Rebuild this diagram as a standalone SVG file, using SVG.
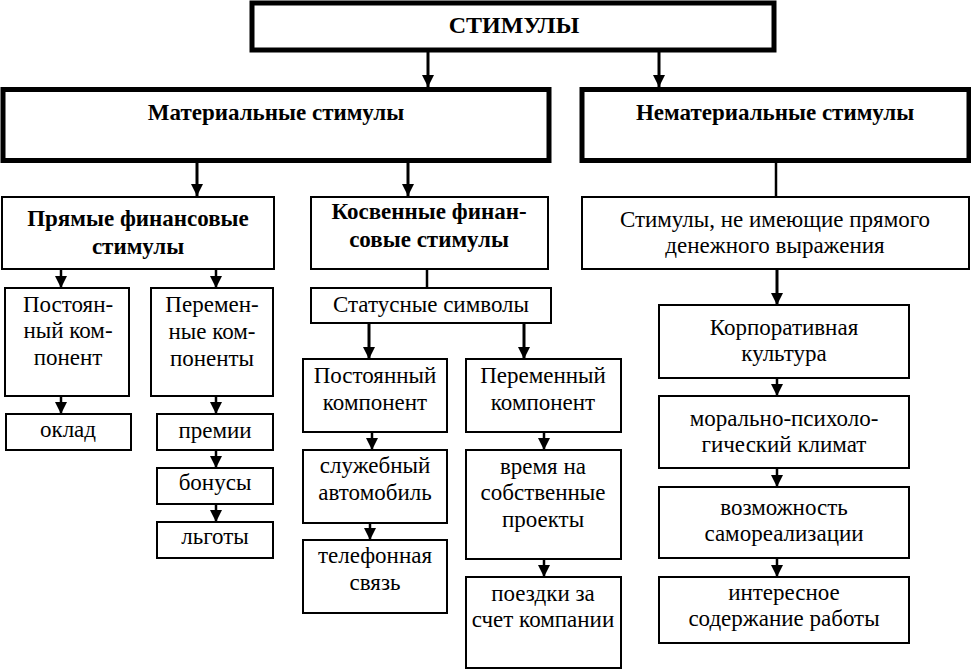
<svg xmlns="http://www.w3.org/2000/svg" width="971" height="669" viewBox="0 0 971 669">
<defs>
<marker id="ah" markerUnits="userSpaceOnUse" markerWidth="12" markerHeight="12" refX="12" refY="6" orient="auto">
<path d="M0,0 L12,6 L0,12 z" fill="#000"/>
</marker>
<style>
.thick{fill:#fff;stroke:#000;stroke-width:5}
.box{fill:#fff;stroke:#000;stroke-width:2}
text{font-family:"Liberation Serif","DejaVu Serif",serif;fill:#000;text-anchor:middle}
.t{font-size:23px}
.b{font-size:23px;font-weight:bold}
.bb{font-size:24px;font-weight:bold}
.c{stroke:#000;stroke-width:2.5;fill:none}
.ca{stroke:#000;stroke-width:2.5;fill:none;marker-end:url(#ah)}
.cat{stroke:#000;stroke-width:3;fill:none;marker-end:url(#ah)}
</style>
</defs>
<rect width="971" height="669" fill="#fff"/>
<g id="connectors">
<line class="cat" x1="428" y1="50" x2="428" y2="87"/>
<line class="cat" x1="659" y1="50" x2="659" y2="87"/>
<line class="cat" x1="197" y1="161" x2="197" y2="196"/>
<line class="cat" x1="408" y1="161" x2="408" y2="196"/>
<line class="c" x1="776" y1="161" x2="776" y2="197"/>
<line class="ca" x1="61" y1="269" x2="61" y2="288"/>
<line class="ca" x1="216" y1="269" x2="216" y2="288"/>
<line class="ca" x1="61" y1="396" x2="61" y2="414"/>
<line class="ca" x1="216" y1="396" x2="216" y2="414"/>
<line class="ca" x1="216" y1="450" x2="216" y2="468"/>
<line class="ca" x1="216" y1="504" x2="216" y2="522"/>
<line class="c" x1="427" y1="269" x2="427" y2="288"/>
<line class="cat" x1="369" y1="323" x2="369" y2="359"/>
<line class="cat" x1="524" y1="323" x2="524" y2="359"/>
<line class="ca" x1="372" y1="432" x2="372" y2="450"/>
<line class="ca" x1="370" y1="523" x2="370" y2="540"/>
<line class="ca" x1="544" y1="432" x2="544" y2="450"/>
<line class="ca" x1="544" y1="559" x2="544" y2="577"/>
<line class="cat" x1="777" y1="269" x2="777" y2="305"/>
<line class="ca" x1="777" y1="378" x2="777" y2="396"/>
<line class="ca" x1="777" y1="468" x2="777" y2="487"/>
<line class="ca" x1="777" y1="558" x2="777" y2="577"/>
</g>
<g id="n-stimuly"><rect class="thick" x="252" y="3" width="522" height="47"/><text class="bb" x="514" y="33">СТИМУЛЫ</text></g>
<g id="n-material"><rect class="thick" x="3" y="89.5" width="546" height="71"/><text class="b" x="276" y="120">Материальные стимулы</text></g>
<g id="n-nematerial"><rect class="thick" x="582" y="89.5" width="387" height="71"/><text class="b" x="775" y="120">Нематериальные стимулы</text></g>
<g id="n-pryamye"><rect class="box" x="2" y="197" width="272" height="72"/><text class="b" x="138" y="226">Прямые финансовые</text><text class="b" x="138" y="254">стимулы</text></g>
<g id="n-kosvennye"><rect class="box" x="311" y="197" width="237" height="72"/><text class="b" x="429" y="219">Косвенные финан-</text><text class="b" x="429" y="247">совые стимулы</text></g>
<g id="n-nedenezh"><rect class="box" x="582" y="197" width="387" height="72"/><text class="t" x="775" y="227">Стимулы, не имеющие прямого</text><text class="t" x="775" y="253">денежного выражения</text></g>
<g id="n-postoyan1"><rect class="box" x="5" y="288" width="124" height="108"/><text class="t" x="68" y="312">Постоян-</text><text class="t" x="68" y="338">ный ком-</text><text class="t" x="68" y="365">понент</text></g>
<g id="n-peremen1"><rect class="box" x="151" y="288" width="122" height="108"/><text class="t" x="212" y="312">Перемен-</text><text class="t" x="212" y="339">ные ком-</text><text class="t" x="212" y="366">поненты</text></g>
<g id="n-oklad"><rect class="box" x="6" y="414" width="125" height="36"/><text class="t" x="68" y="437">оклад</text></g>
<g id="n-premii"><rect class="box" x="157" y="414" width="116" height="36"/><text class="t" x="215" y="438">премии</text></g>
<g id="n-bonusy"><rect class="box" x="157" y="468" width="116" height="36"/><text class="t" x="215" y="490">бонусы</text></g>
<g id="n-lgoty"><rect class="box" x="157" y="522" width="116" height="36"/><text class="t" x="215" y="544">льготы</text></g>
<g id="n-status"><rect class="box" x="311" y="288" width="240" height="35"/><text class="t" x="431" y="312">Статусные символы</text></g>
<g id="n-postoyan2"><rect class="box" x="303" y="359" width="144" height="73"/><text class="t" x="375" y="383">Постоянный</text><text class="t" x="375" y="410">компонент</text></g>
<g id="n-peremen2"><rect class="box" x="466" y="359" width="155" height="73"/><text class="t" x="543" y="383">Переменный</text><text class="t" x="543" y="410">компонент</text></g>
<g id="n-avto"><rect class="box" x="303" y="450" width="144" height="73"/><text class="t" x="375" y="473">служебный</text><text class="t" x="375" y="500">автомобиль</text></g>
<g id="n-telefon"><rect class="box" x="303" y="540" width="144" height="73"/><text class="t" x="375" y="563">телефонная</text><text class="t" x="375" y="590">связь</text></g>
<g id="n-vremya"><rect class="box" x="466" y="450" width="155" height="109"/><text class="t" x="543" y="474">время на</text><text class="t" x="543" y="500">собственные</text><text class="t" x="543" y="527">проекты</text></g>
<g id="n-poezdki"><rect class="box" x="466" y="577" width="155" height="91"/><text class="t" x="543" y="601">поездки за</text><text class="t" x="543" y="627">счет компании</text></g>
<g id="n-korp"><rect class="box" x="659" y="305" width="250" height="73"/><text class="t" x="784" y="335">Корпоративная</text><text class="t" x="784" y="361">культура</text></g>
<g id="n-klimat"><rect class="box" x="659" y="396" width="250" height="72"/><text class="t" x="784" y="426">морально-психоло-</text><text class="t" x="784" y="452">гический климат</text></g>
<g id="n-samoreal"><rect class="box" x="659" y="487" width="250" height="71"/><text class="t" x="784" y="515">возможность</text><text class="t" x="784" y="541">самореализации</text></g>
<g id="n-interes"><rect class="box" x="659" y="577" width="250" height="66"/><text class="t" x="784" y="600">интересное</text><text class="t" x="784" y="626">содержание работы</text></g>
</svg>
